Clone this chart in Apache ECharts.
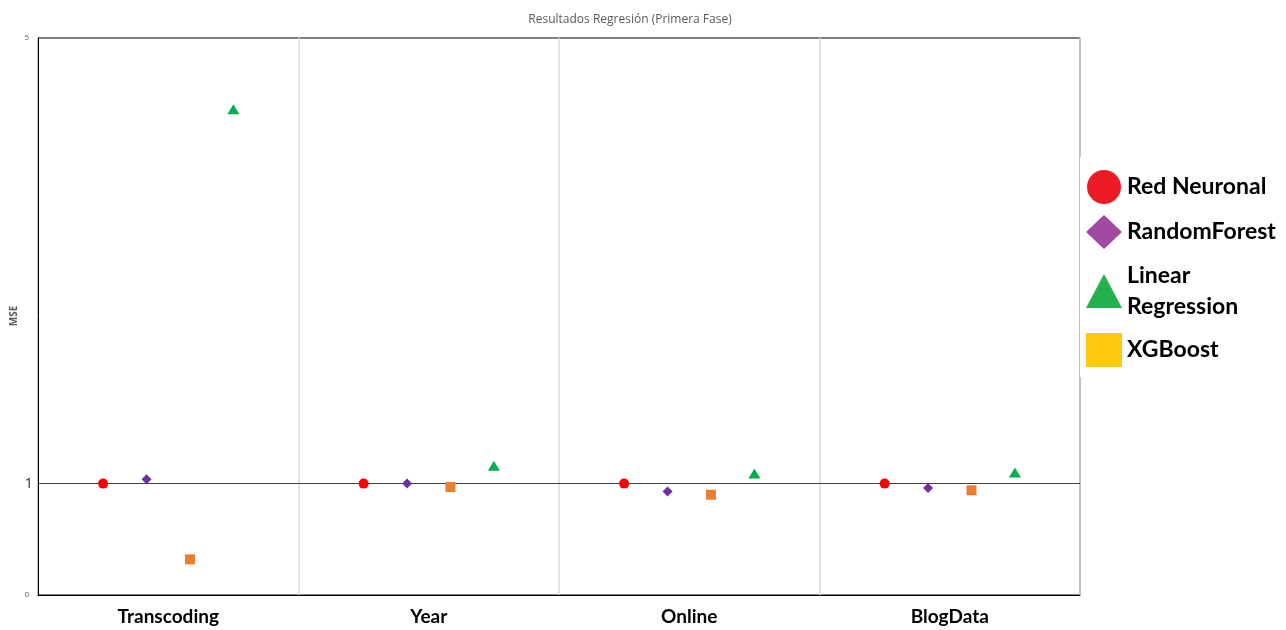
<!DOCTYPE html>
<html><head><meta charset="utf-8">
<script src="https://cdn.jsdelivr.net/npm/echarts@6/dist/echarts.min.js"></script>
<style>html,body{margin:0;padding:0;background:#fff}#c{width:1286px;height:630px}</style>
</head><body><div id="c"></div>
<script>
const categories = ['Transcoding', 'Year', 'Online', 'BlogData'];
const redNeuronal = [1.0, 1.0, 1.0, 1.0];
const randomForest = [1.04, 1.0, 0.93, 0.96];
const linearRegression = [4.36, 1.16, 1.09, 1.10];
const xgBoost = [0.32, 0.97, 0.90, 0.94];
const yTicksShown = [0, 1, 5];
const yAxisTitle = 'MSE';
const legendNames = ['Red Neuronal', 'RandomForest', 'Linear Regression', 'XGBoost'];

// dodge slot within each category (layout)
const slot = { 'Red Neuronal': 0, 'RandomForest': 1, 'XGBoost': 2, 'Linear Regression': 3 };
function pts(name, vals) {
  return vals.map((v, i) => [i + 0.25 + slot[name] / 6, v]);
}

const chart = echarts.init(document.getElementById('c'));
chart.setOption({
  animation: false,
  title: {
    text: 'Resultados Regresión (Primera Fase)',
    left: 625, top: 9, textAlign: 'center',
    textStyle: { fontFamily: 'Open Sans', fontSize: 12, fontWeight: 'normal', color: '#595959' }
  },
  graphic: [{
    type: 'text', x: 14, y: 316, rotation: Math.PI / 2, silent: true,
    style: { text: yAxisTitle, align: 'center', verticalAlign: 'middle',
      fontFamily: 'Open Sans', fontSize: 10, fontWeight: 'bold', fill: '#595959' }
  }],
  grid: { left: 38, right: 206, top: 38, bottom: 35, show: true, borderColor: '#000', borderWidth: 1,
    backgroundColor: 'transparent', containLabel: false, outerBoundsMode: 'none' },
  legend: {
    orient: 'vertical', left: 1080, top: 157,
    backgroundColor: '#fff', padding: [13, 6, 10, 6],
    itemWidth: 36, itemHeight: 34, itemGap: 11,
    textStyle: { fontFamily: 'Lato', fontSize: 23, fontWeight: 'bold', color: '#000', lineHeight: 31 },
    formatter: n => n === 'Linear Regression' ? 'Linear\nRegression' : n,
    data: [
      { name: 'Red Neuronal', icon: 'circle', itemStyle: { color: '#ed1c24', opacity: 1 } },
      { name: 'RandomForest', icon: 'diamond', itemStyle: { color: '#a349a4', opacity: 1 } },
      { name: 'Linear Regression', icon: 'triangle', itemStyle: { color: '#22b14c', opacity: 1 } },
      { name: 'XGBoost', icon: 'rect', itemStyle: { color: '#ffc90e', opacity: 1 } }
    ]
  },
  xAxis: [
    {
      type: 'category', data: categories, boundaryGap: true,
      axisLine: { lineStyle: { color: '#000' } }, axisTick: { show: false },
      axisLabel: { fontFamily: 'Lato', fontSize: 19, fontWeight: 'bold', color: '#000', margin: 12 },
      splitLine: { show: true, lineStyle: { color: '#d9d9d9', width: 1.5 } }
    },
    { type: 'value', min: 0, max: 4, show: false }
  ],
  yAxis: {
    type: 'value', min: 0, max: 5, interval: 1,
    axisLine: { show: true, lineStyle: { color: '#000' } }, axisTick: { show: false },
    splitLine: { show: false },
    axisLabel: {
      margin: 5,
      formatter: v => yTicksShown.includes(v) ? (v === 1 ? '{b|' + v + '}' : '{s|' + v + '}') : '',
      rich: {
        s: { fontFamily: 'Open Sans', fontSize: 8, color: '#595959', padding: [0, 4, 0, 0] },
        b: { fontFamily: 'Open Sans', fontSize: 15, color: '#333' }
      }
    }
  },
  series: [
    { name: 'Red Neuronal', type: 'scatter', xAxisIndex: 1, symbol: 'circle', symbolSize: 10,
      itemStyle: { color: '#ff0000', opacity: 1 }, data: pts('Red Neuronal', redNeuronal), z: 3,
      markLine: { silent: true, symbol: 'none', label: { show: false }, lineStyle: { color: '#404040', width: 1, type: 'solid', opacity: 1 }, data: [{ yAxis: 1 }], z: 1 } },
    { name: 'RandomForest', type: 'scatter', xAxisIndex: 1, symbol: 'diamond', symbolSize: 10,
      itemStyle: { color: '#7030a0', opacity: 1 }, data: pts('RandomForest', randomForest), z: 3 },
    { name: 'Linear Regression', type: 'scatter', xAxisIndex: 1, symbol: 'triangle', symbolSize: [12, 10],
      itemStyle: { color: '#00b050', opacity: 1 }, data: pts('Linear Regression', linearRegression), z: 3 },
    { name: 'XGBoost', type: 'scatter', xAxisIndex: 1, symbol: 'rect', symbolSize: 10,
      itemStyle: { color: '#ed7d31', opacity: 1 }, data: pts('XGBoost', xgBoost), z: 3 }
  ]
});
</script></body></html>
